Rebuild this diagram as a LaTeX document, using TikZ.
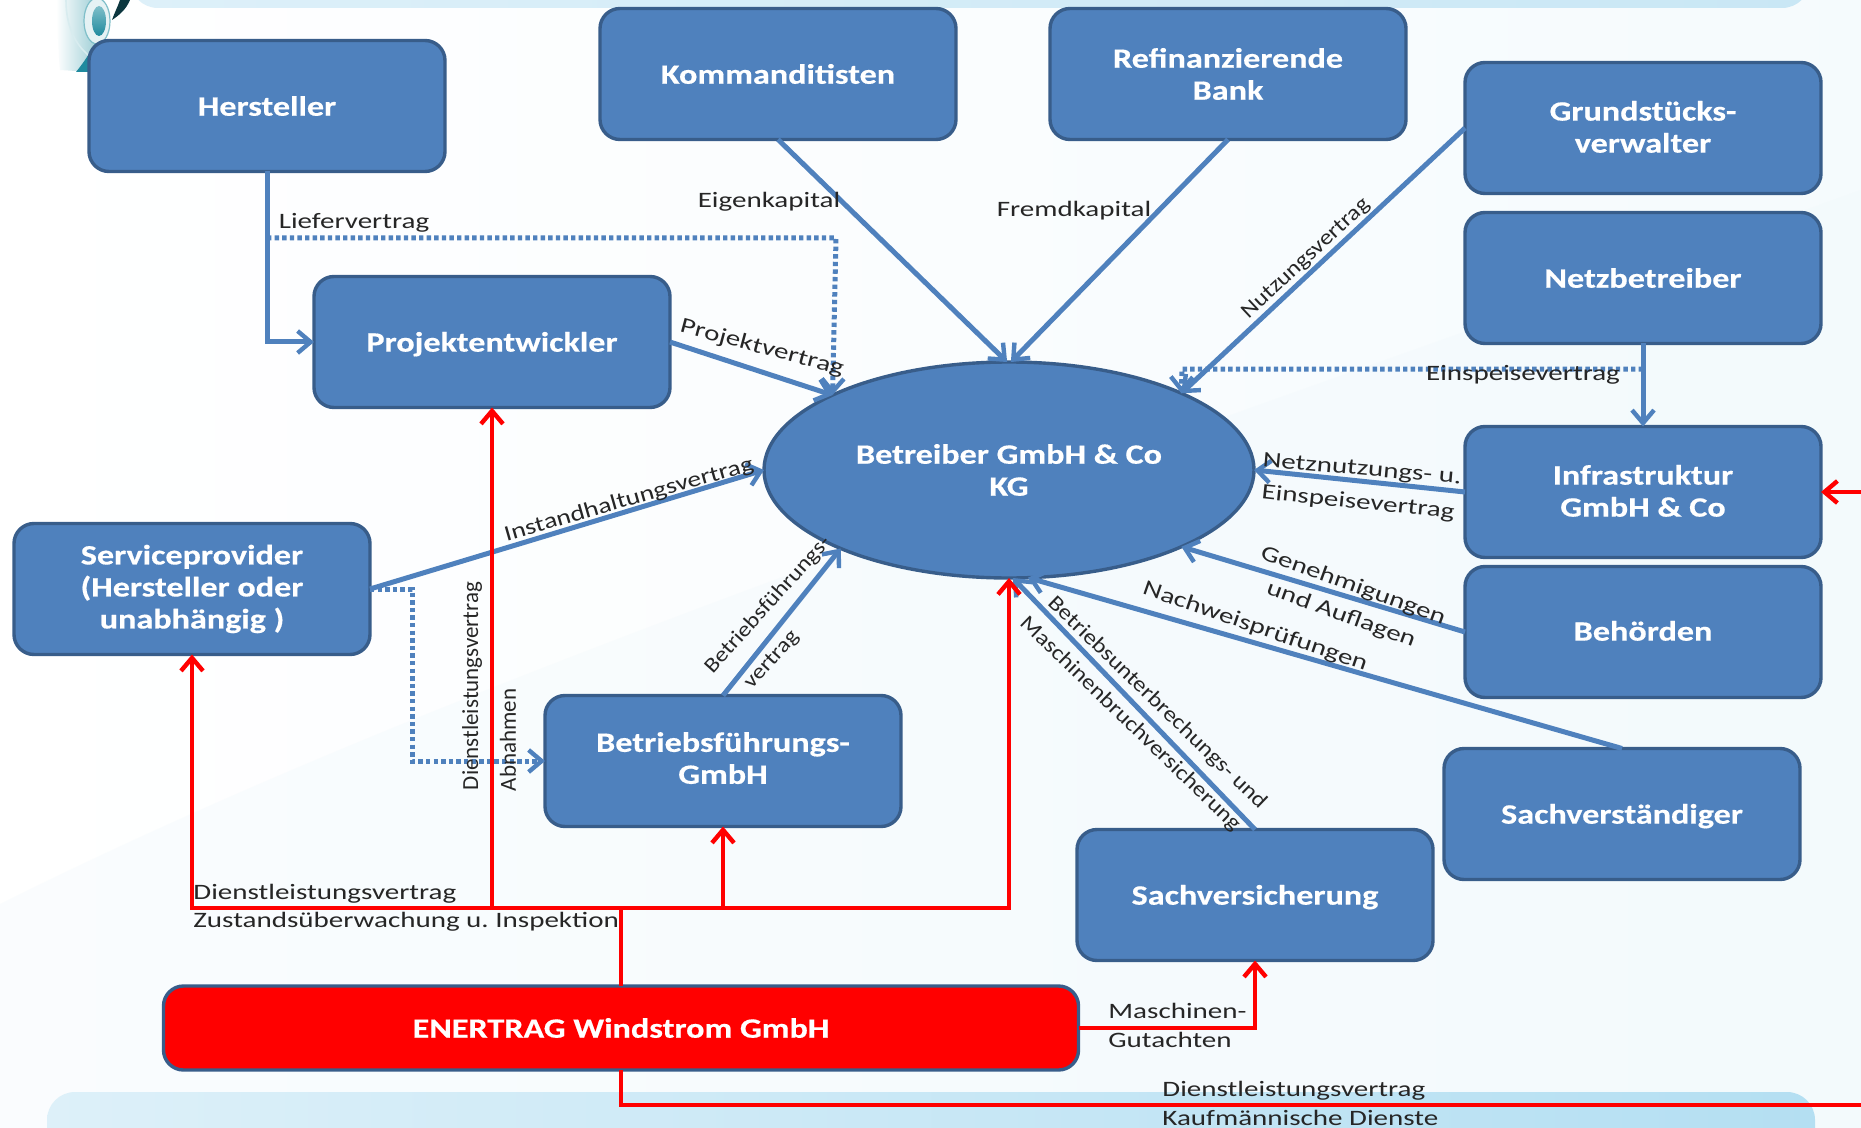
\documentclass[tikz,border=0pt]{standalone}
\usepackage{fontspec}
\setmainfont{Carlito}
\newfontfamily\boxfont[FakeStretch=1.22,FakeBold=0.5]{Carlito Bold}
\newfontfamily\lblfont[FakeStretch=1.32]{Carlito}
\newfontfamily\lblmfont[FakeStretch=1.25]{Carlito}
\newfontfamily\lbdfont[FakeStretch=1.15]{Carlito}
\newfontfamily\lbvfont{Carlito}
\usetikzlibrary{arrows.meta,shapes.geometric,calc}
\definecolor{bfill}{HTML}{4F81BD}
\definecolor{bdraw}{HTML}{385D8A}
\definecolor{band}{HTML}{C9E7F5}
\definecolor{bandl}{HTML}{DDF0F9}
\definecolor{bandd}{HTML}{B4DFF2}
\definecolor{lteal}{HTML}{7FBFC9}
\definecolor{dteal}{HTML}{1F8A9E}
\tikzset{
  x=0.5pt,y=-0.5pt,
  box/.style={draw=bdraw,fill=bfill,line width=1.7pt,rounded corners=10pt,inner sep=0pt,outer sep=0pt,
    minimum width=178pt,minimum height=65.5pt,align=center,text=white,font=\boxfont\fontsize{14}{16}\selectfont},
  lbl/.style={inner sep=0pt,text=black!85,align=left,font=\lblfont\fontsize{11}{12}\selectfont},
  lbm/.style={lbl,font=\lblmfont\fontsize{11}{12}\selectfont},
  lbd/.style={lbl,font=\lbdfont\fontsize{10.8}{12}\selectfont},
  lbs/.style={lbl,font=\lbdfont\fontsize{10.6}{12}\selectfont},
  lbv/.style={lbl,font=\lbvfont\fontsize{11.5}{12}\selectfont},
  tipb/.tip={Straight Barb[length=6.5pt,width=11pt,line width=2.2pt]},
  bline/.style={draw=bfill,line width=2.5pt,-{tipb}},
  bdot/.style={draw=bfill,line width=2.5pt,dash pattern=on 2.2pt off 1.6pt,-{tipb}},
  rline/.style={draw=red,line width=2pt},
  rarrow/.style={draw=red,line width=2pt,-{tipb}},
}
\begin{document}
\begin{tikzpicture}
\useasboundingbox (0,0) rectangle (1861,1128);
% background
\shade[left color=white,right color=white!82!band] (0,0) rectangle (1861,1128);
\fill[band!30,opacity=.3] (0,1128) -- (0,904) .. controls (450,680) and (1000,500) .. (1861,190) -- (1861,1128) -- cycle;
\shade[left color=bandl,right color=band,rounded corners=14pt] (130,-30) rectangle (1810,8);
\shade[left color=bandl,right color=bandd,rounded corners=14pt] (47,1092) rectangle (1815,1170);
% logo
\shade[left color=white,right color=lteal] (56,0) .. controls (58,30) and (58,50) .. (60,70) -- (92,72) -- (110,45) .. controls (96,35) and (90,15) .. (92,0) -- cycle;
\fill[dteal] (76,72) .. controls (84,62) and (88,56) .. (92,48) -- (104,48) -- (92,72) -- cycle;
\draw[white!70!lteal,line width=.8pt] (66,0) .. controls (66,30) and (78,48) .. (92,58);
\fill[white!80!lteal] (97,21) ellipse (13 and 23);
\draw[lteal,line width=.6pt] (97,21) ellipse (13 and 23);
\shade[top color=lteal,bottom color=dteal] (99,21) ellipse (7 and 15);
\fill[black!60!dteal] (130,0) .. controls (126,10) and (118,16) .. (112,20) .. controls (114,14) and (118,6) .. (120,0) -- cycle;
% nodes
\node[box] (herst) at (267,106) {Hersteller};
\node[box] (komm) at (778,74) {Kommanditisten};
\node[box] (refi) at (1228,74) {Refinanzierende\\Bank};
\node[box] (grund) at (1643,128) {Grundstücks-\\verwalter\rule[-1.2pt]{0pt}{1pt}};
\node[box] (netz) at (1643,278) {Netzbetreiber};
\node[box] (infra) at (1643,492) {Infrastruktur\\GmbH \& Co\rule[-1.2pt]{0pt}{1pt}};
\node[box] (behoer) at (1643,632) {Behörden\rule[-1.2pt]{0pt}{1pt}};
\node[box] (sachv) at (1622,814) {\rule{0pt}{12pt}Sachverständiger};
\node[box] (sachvs) at (1255,895) {\rule{0pt}{12pt}Sachversicherung};
\node[box] (proj) at (492,342) {\rule{0pt}{12pt}Projektentwickler};
\node[box] (serv) at (192,589) {Serviceprovider\\(Hersteller oder\\unabhängig )};
\node[box] (bfg) at (723,761) {Betriebsführungs-\\GmbH\rule[-3pt]{0pt}{1pt}};
\node[box,fill=red,minimum width=457.5pt,minimum height=42pt] (ener) at (621,1028) {ENERTRAG Windstrom GmbH};
% ellipse
\node[box,ellipse,rounded corners=0pt,minimum width=245pt,minimum height=108pt] (betr) at (1009,470) {Betreiber GmbH \& Co\\KG};
% free ends
\coordinate (redjoin) at (621,908);
\coordinate (redS) at (192,908);
\coordinate (redP) at (492,908);
\coordinate (redB) at (723,908);
\coordinate (redE) at (1009,908);
\coordinate (herstc) at (267,342);
\coordinate (dotS) at (267,238);
\coordinate (dotC) at (836,238);
\coordinate (dotN) at (1643,369);
\coordinate (dotK) at (1182,369);
\coordinate (svA) at (412,589);
\coordinate (svB) at (412,761);
\coordinate (maC) at (1255,1028);
\coordinate (botC) at (621,1105);
\coordinate (botE) at (1861,1105);
\coordinate (infE) at (1861,492);
% blue connectors
\draw[bline] (herst.south) -- (herstc) -- (proj.west);
\draw[bdot] (dotS) -- (dotC) -- (betr.157);
\draw[bline] (proj.east) -- (betr.157);
\draw[bline] (komm.south) -- (betr.91);
\draw[bline] (refi.south) -- (betr.89);
\draw[bline] (grund.west) -- (betr.24);
\draw[bline] (netz.south) -- (infra.north);
\draw[bdot] (dotN) -- (dotK) -- (betr.24);
\draw[bline] (infra.west) -- (betr.east);
\draw[bline] (behoer.west) -- (betr.-24);
\draw[bline] (sachv.north) -- (betr.-80);
\draw[bline] (sachvs.north) -- (betr.-88);
\draw[bline] (serv.east) -- (betr.west);
\draw[bdot] (serv.east) -- (svA) -- (svB) -- (bfg.west);
\draw[bline] (bfg.north) -- (betr.205);
% red connectors
\draw[rline] (ener.north) -- (redjoin);
\draw[rarrow] (redE) -- (redS) -- (serv.south);
\draw[rarrow] (redP) -- (proj.south);
\draw[rarrow] (redB) -- (bfg.south);
\draw[rarrow] (redS) -- (redE) -- (betr.south);
\draw[rarrow] (ener.east) -- (maC) -- (sachvs.south);
\draw[rline] (ener.south) -- (botC) -- (botE);
\draw[rarrow] (infE) -- (infra.east);
% labels
\node[lbl] (l1) at (354,223) {Liefervertrag};
\node[lbl] (l2) at (769,202) {Eigenkapital};
\node[lbl] (l3) at (1074,211) {Fremdkapital};
\node[lbl,rotate=-15] (l4) at (762,348) {Projektvertrag};
\node[lbd,rotate=43] (l5) at (1306,259) {Nutzungsvertrag};
\node[lbl] (l6) at (1523,375) {Einspeisevertrag};
\node[lbl,rotate=-5] (l7) at (1362,470) {Netznutzungs- u.};
\node[lbl,rotate=-6] (l8) at (1358,503) {Einspeisevertrag};
\node[lbl,rotate=-20] (l9) at (1353,586) {Genehmigungen};
\node[lbl,rotate=-20] (l10) at (1341,615) {und Auflagen};
\node[lbl,rotate=-19] (l11) at (1255,627) {Nachweisprüfungen};
\node[lbd,rotate=-44] (l12) at (1157,703) {Betriebsunterbrechungs- und};
\node[lbd,rotate=-44] (l13) at (1130,724) {Maschinenbruchversicherung};
\node[lbs,rotate=48] (lbfa) at (768,605) {Betriebsführungs-};
\node[lbs,rotate=48] (l14) at (772,660) {vertrag};
\node[lbm,rotate=16] (l15) at (629,500) {Instandhaltungsvertrag};
\node[lbv,rotate=90] (l16) at (472,686) {Dienstleistungsvertrag};
\node[lbv,rotate=90] (l17) at (508,740) {Abnahmen};
\node[lbl,anchor=west] (l18) at (193,894) {Dienstleistungsvertrag};
\node[lbl,anchor=west] (l19) at (193,922) {Zustandsüberwachung u.\ Inspektion};
\node[lbl,anchor=west] (l20) at (1108,1011) {Maschinen-};
\node[lbl,anchor=west] (l21) at (1108,1040) {Gutachten};
\node[lbl,anchor=west] (l22) at (1162,1091) {Dienstleistungsvertrag};
\node[lbl,anchor=west] (l23) at (1162,1118) {Kaufmännische Dienste};
\end{tikzpicture}
\end{document}
